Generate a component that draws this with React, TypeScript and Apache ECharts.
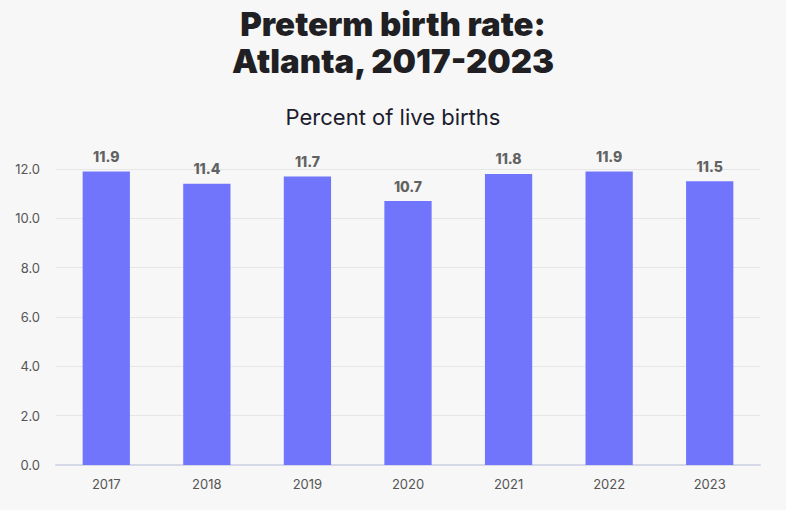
import React, { useEffect, useRef } from "react";
import * as echarts from "echarts";

const categories = ["2017", "2018", "2019", "2020", "2021", "2022", "2023"];
const values = [11.9, 11.4, 11.7, 10.7, 11.8, 11.9, 11.5];
const yTicks = [0, 2, 4, 6, 8, 10, 12];

export default function App() {
  const ref = useRef<HTMLDivElement>(null);
  useEffect(() => {
    if (!ref.current) return;
    const chart = echarts.init(ref.current, null, { renderer: "svg" });
    chart.setOption({
      animation: false,
      backgroundColor: "#f7f7f7",
      title: [
        {
          text: "Preterm birth rate:\nAtlanta, 2017-2023",
          left: "center",
          top: 0,
          textStyle: {
            fontFamily: "Inter",
            fontWeight: 900,
            fontSize: 33,
            lineHeight: 37,
            color: "#1f1f24",
          },
        },
        {
          text: "Percent of live births",
          left: "center",
          top: 101,
          textStyle: {
            fontFamily: "Inter",
            fontWeight: 400,
            fontSize: 22,
            color: "#1c1c2e",
          },
        },
      ],
      grid: { left: 56, right: 26, top: 169, bottom: 45, containLabel: false },
      xAxis: {
        type: "category",
        data: categories,
        axisTick: { show: false },
        axisLine: { lineStyle: { color: "#d5d8e6", width: 2 } },
        axisLabel: {
          color: "#555",
          fontFamily: "Inter",
          fontSize: 13,
          margin: 12,
        },
      },
      yAxis: {
        type: "value",
        min: yTicks[0],
        max: yTicks[yTicks.length - 1],
        interval: 2,
        axisLine: { show: false },
        axisTick: { show: false },
        splitLine: { lineStyle: { color: "#e6e6e6", width: 1 } },
        axisLabel: {
          color: "#555",
          fontFamily: "Inter",
          fontSize: 13,
          margin: 16,
          formatter: (v: number) => v.toFixed(1),
        },
      },
      series: [
        {
          type: "bar",
          data: values,
          barWidth: "47%",
          itemStyle: { color: "#7175fc" },
          label: {
            show: true,
            position: "top",
            distance: 8,
            color: "#626262",
            fontFamily: "Inter",
            fontWeight: 800,
            fontSize: 14,
            formatter: (p: any) => p.value.toFixed(1),
          },
        },
      ],
    });
    return () => chart.dispose();
  }, []);
  return (
    <div
      ref={ref}
      style={{ position: "fixed", left: 0, top: 0, width: 786, height: 510 }}
    />
  );
}
